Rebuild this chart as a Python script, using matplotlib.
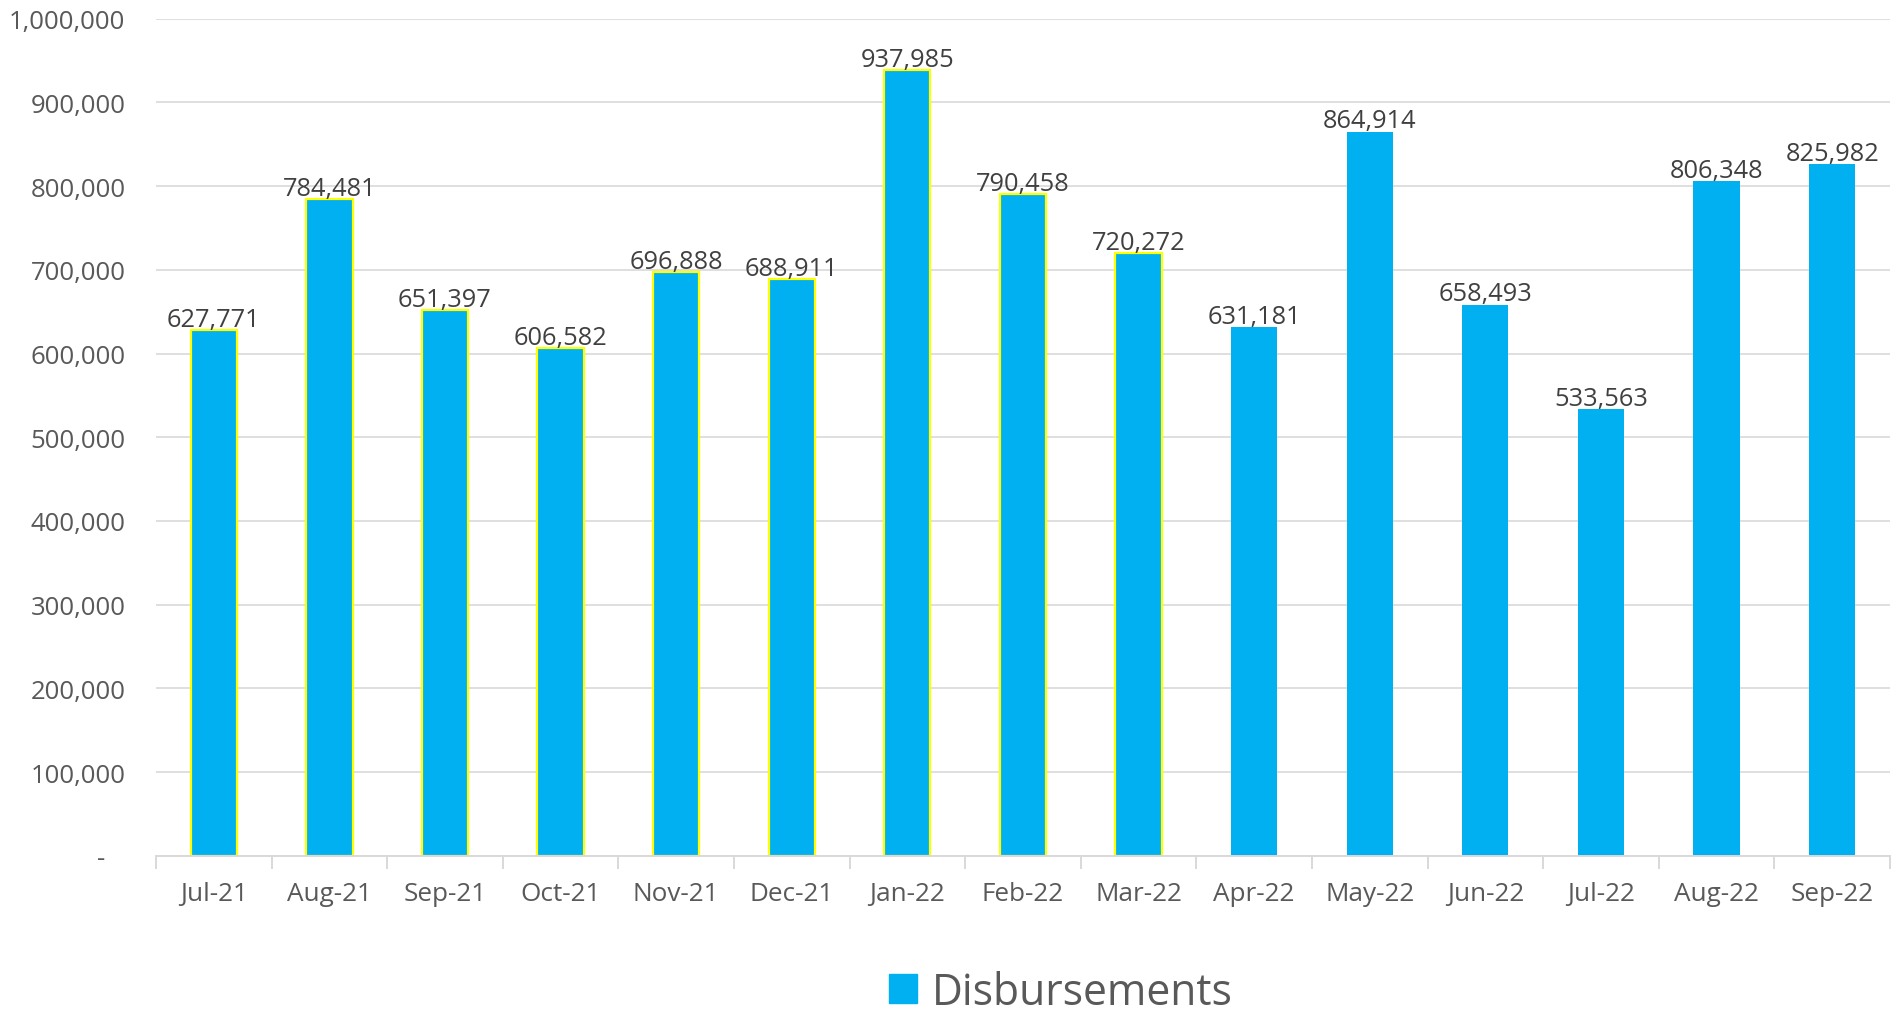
import matplotlib
matplotlib.use("Agg")
import matplotlib.pyplot as plt
from matplotlib.ticker import FuncFormatter, FixedLocator
from matplotlib.patches import Patch

months = ["Jul-21", "Aug-21", "Sep-21", "Oct-21", "Nov-21", "Dec-21", "Jan-22",
          "Feb-22", "Mar-22", "Apr-22", "May-22", "Jun-22", "Jul-22", "Aug-22", "Sep-22"]
disbursements = [627771, 784481, 651397, 606582, 696888, 688911, 937985,
                 790458, 720272, 631181, 864914, 658493, 533563, 806348, 825982]
highlighted = [True] * 9 + [False] * 6

plt.rcParams['font.family'] = ['Open Sans', 'DejaVu Sans']

BAR = "#00B0F0"
fig = plt.figure(figsize=(19, 10.12), dpi=100)
ax = fig.add_axes([0.0821, 0.1532, 0.9126, 0.8275])

x = list(range(len(months)))
for xi, v, h in zip(x, disbursements, highlighted):
    ax.bar(xi, v, width=0.40, color=BAR,
           edgecolor="#FFFF00" if h else BAR, linewidth=1.6 if h else 0, zorder=3)
    ax.annotate(f"{v:,}", (xi, v), xytext=(0, 3), textcoords="offset points",
                ha="center", va="baseline", fontsize=18.3, color="#404040", zorder=4)

ax.set_xlim(-0.5, len(months) - 0.5)
ax.set_ylim(0, 1_000_000)
ax.set_yticks(range(0, 1_000_001, 100_000))
ax.yaxis.set_major_formatter(FuncFormatter(lambda v, p: "-   " if v == 0 else f"{int(v):,}"))
ax.set_xticks(x)
ax.set_xticklabels(months)
ax.xaxis.set_minor_locator(FixedLocator([i - 0.5 for i in range(len(months) + 1)]))

ax.grid(axis="y", color="#D9D9D9", linewidth=1.2, zorder=0)
for s in ["top", "right", "left"]:
    ax.spines[s].set_visible(False)
ax.spines["bottom"].set_color("#D9D9D9")
ax.spines["bottom"].set_linewidth(1.4)
ax.spines["bottom"].set_zorder(5)

ax.tick_params(axis="y", length=0, pad=22, labelsize=18.5, labelcolor="#595959")
ax.tick_params(axis="x", which="major", length=0, pad=18, labelsize=18.8, labelcolor="#595959")
ax.tick_params(axis="x", which="minor", length=9, width=1.4, color="#D9D9D9")

handle = Patch(facecolor=BAR, edgecolor=BAR)
fig.legend([handle], ["Disbursements"], loc="center", bbox_to_anchor=(0.5585, 0.0185),
           frameon=False, fontsize=30.7, labelcolor="#595959",
           handlelength=0.65, handleheight=0.65, handletextpad=0.35)

fig.savefig("out.png", dpi=100)
